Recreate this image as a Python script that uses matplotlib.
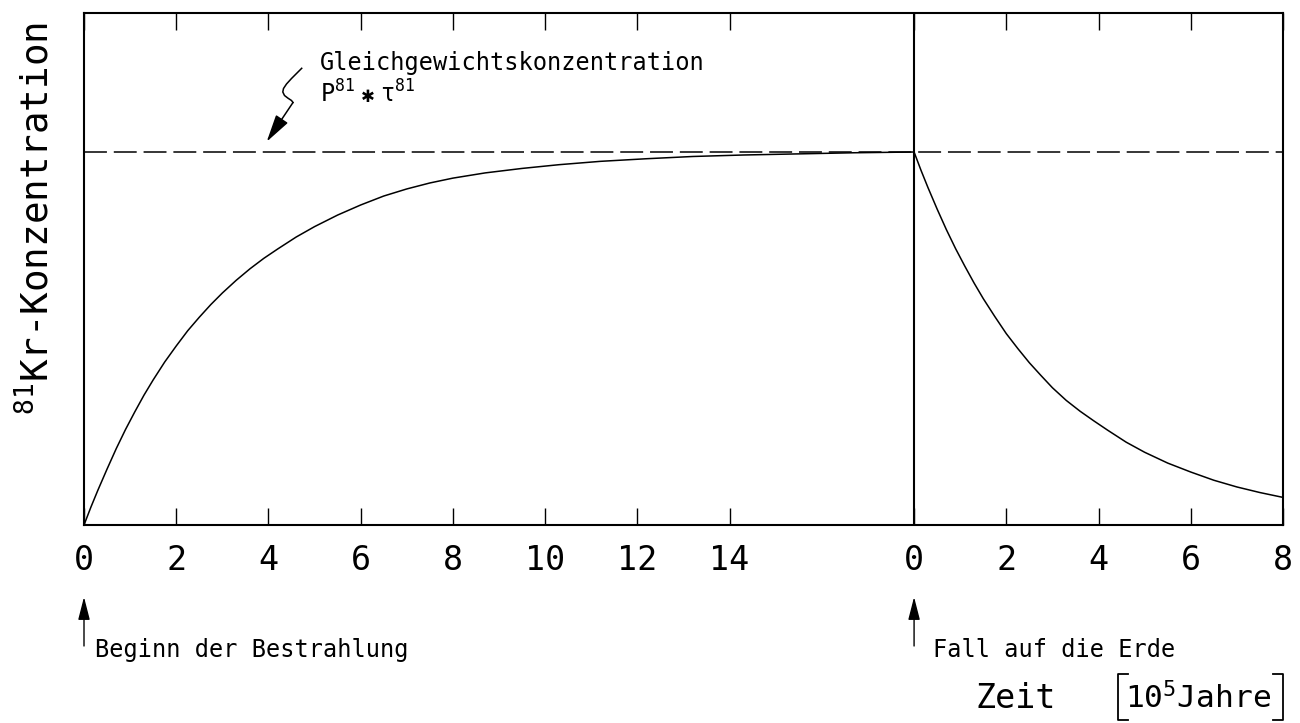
import matplotlib
matplotlib.use('Agg')
import matplotlib.pyplot as plt
from matplotlib.lines import Line2D

# ---- data (time in 10^5 years, concentration relative to equilibrium) ----
rise_t = [0, 0.15, 0.3, 0.5, 0.7, 0.9, 1.1, 1.3, 1.5, 1.75, 2.0, 2.25, 2.5, 2.75, 3.0,
          3.3, 3.6, 3.9, 4.2, 4.6, 5.0, 5.5, 6.0, 6.5, 7.0, 7.5, 8.0, 8.7, 9.5, 10.3,
          11.2, 12.2, 13.2, 14.3, 15.5, 16.7, 18.0]
rise_c = [0, 0.048, 0.093, 0.15, 0.205, 0.256, 0.303, 0.348, 0.389, 0.437, 0.48, 0.521,
          0.557, 0.591, 0.622, 0.656, 0.687, 0.715, 0.74, 0.772, 0.8, 0.831, 0.858,
          0.882, 0.901, 0.917, 0.93, 0.944, 0.956, 0.966, 0.975, 0.982, 0.988, 0.992,
          0.995, 0.998, 1.0]
decay_t = [0, 0.15, 0.3, 0.5, 0.7, 0.9, 1.1, 1.3, 1.5, 1.75, 2.0, 2.25, 2.5, 2.75, 3.0,
           3.3, 3.6, 3.9, 4.2, 4.6, 5.0, 5.5, 6.0, 6.5, 7.0, 7.5, 8.0]
decay_c = [1.0, 0.951, 0.905, 0.847, 0.792, 0.741, 0.694, 0.649, 0.607, 0.559, 0.513,
           0.473, 0.435, 0.401, 0.368, 0.334, 0.305, 0.279, 0.254, 0.222, 0.195, 0.166,
           0.142, 0.12, 0.102, 0.087, 0.074]
fall_start = 18          # position of "Fall auf die Erde" on the time axis
equilibrium = 1.0
tick_pos = [0, 2, 4, 6, 8, 10, 12, 14, 18, 20, 22, 24, 26]
tick_labels = ['0', '2', '4', '6', '8', '10', '12', '14', '0', '2', '4', '6', '8']
x_max = 26
y_max = 1.3727

MONO = 'DejaVu Sans Mono'
plt.rcParams['font.family'] = [MONO, 'DejaVu Sans']
plt.rcParams['mathtext.fontset'] = 'custom'
plt.rcParams['mathtext.rm'] = MONO
plt.rcParams['mathtext.it'] = MONO

W, H = 1300, 723
fig = plt.figure(figsize=(W / 100, H / 100), dpi=100)


def fx(x):
    return x / W


def fy(y):
    return 1 - y / H


ax = fig.add_axes([fx(84), fy(525), (1283 - 84) / W, (525 - 13) / H])
ax.set_xlim(0, x_max)
ax.set_ylim(0, y_max)

ax.plot(rise_t, rise_c, color='black', lw=1.1, solid_joinstyle='round')
ax.plot([fall_start + t for t in decay_t], decay_c, color='black', lw=1.1,
        solid_joinstyle='round')
ax.axhline(equilibrium, color='black', lw=1.1, linestyle=(0, (15, 4.5)))
ax.axvline(fall_start, color='black', lw=1.5)

for s in ax.spines.values():
    s.set_linewidth(1.5)

ax.set_yticks([])
ax.set_xticks(tick_pos, tick_labels)
ax.tick_params(axis='x', direction='in', length=12.5, width=1.0, top=True,
               labeltop=False, pad=14, labelsize=24, colors='black')

# y label
fig.text(fx(38), fy(219), r'$^{81}$Kr-Konzentration', rotation=90, ha='center',
         va='center', fontsize=27, family=MONO)

# Annotation text
fig.text(fx(320), fy(70), 'Gleichgewichtskonzentration', fontsize=17, family=MONO,
         ha='left', va='baseline')
fig.text(fx(320), fy(103), r'P$^{81}$', fontsize=17, family=MONO, ha='left', va='baseline')
fig.text(fx(368), fy(97), '✱', fontsize=12, family='DejaVu Sans', ha='center', va='center')
fig.text(fx(380), fy(103), r'τ$^{81}$', fontsize=17, family=MONO, ha='left', va='baseline')

# squiggle + arrow pointing to the equilibrium line
sq_x = [301.7, 297, 291.5, 286.5, 283.5, 282.8, 284.5, 288, 291.5, 293.0]
sq_y = [68.3, 73, 78.5, 84, 88.5, 92, 95.5, 98.2, 100.5, 102.5]
fig.add_artist(Line2D([fx(v) for v in sq_x], [fy(v) for v in sq_y],
                      transform=fig.transFigure, color='black', lw=1.1,
                      solid_joinstyle='round'))
ax.annotate('', xy=(fx(266.7), fy(141.7)), xycoords='figure fraction',
            xytext=(fx(293.0), fy(102.5)), textcoords='figure fraction',
            arrowprops=dict(arrowstyle='-|>,head_length=0.85,head_width=0.22',
                            mutation_scale=20, color='black', lw=1.1,
                            shrinkA=0, shrinkB=0))

# bottom arrows + labels
for xd in (0, fall_start):
    ax.annotate('', xy=(xd, fy(597)), xycoords=('data', 'figure fraction'),
                xytext=(xd, fy(646)), textcoords=('data', 'figure fraction'),
                arrowprops=dict(arrowstyle='-|>,head_length=0.7,head_width=0.18',
                                mutation_scale=20, color='black', lw=1.0,
                                shrinkA=0, shrinkB=0), annotation_clip=False)
fig.text(fx(95), fy(657), 'Beginn der Bestrahlung', fontsize=17, family=MONO,
         ha='left', va='baseline')
fig.text(fx(933), fy(657), 'Fall auf die Erde', fontsize=17, family=MONO,
         ha='left', va='baseline')

# axis title "Zeit [10^5 Jahre]"
fig.text(fx(975), fy(708), 'Zeit', fontsize=24, family=MONO, ha='left', va='baseline')
fig.text(fx(1125), fy(708), r'10$^{5}$Jahre', fontsize=22.5, family=MONO, ha='left',
         va='baseline')
bx = [1128, 1118, 1118, 1128]
by = [674, 674, 720, 720]
fig.add_artist(Line2D([fx(v) for v in bx], [fy(v) for v in by],
                      transform=fig.transFigure, color='black', lw=1.3))
bx2 = [1273, 1283, 1283, 1273]
fig.add_artist(Line2D([fx(v) for v in bx2], [fy(v) for v in by],
                      transform=fig.transFigure, color='black', lw=1.3))

fig.savefig('out.png', dpi=100, facecolor='white')
